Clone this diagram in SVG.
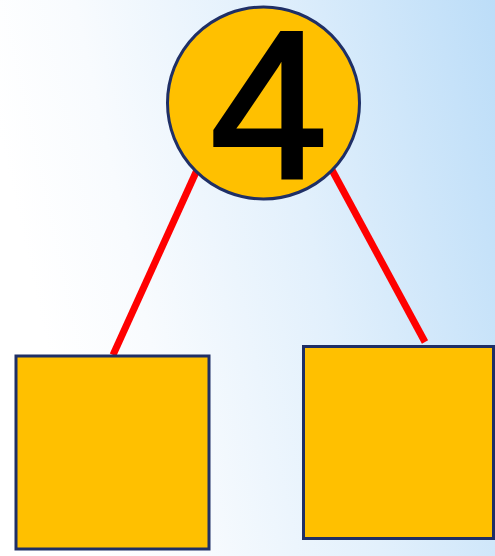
<svg xmlns="http://www.w3.org/2000/svg" width="495" height="556" viewBox="0 0 495 556">
<defs>
<linearGradient id="bg" x1="0" y1="0.25" x2="1" y2="0">
<stop offset="0" stop-color="#FFFFFF"/>
<stop offset="0.2" stop-color="#F8FBFE"/>
<stop offset="0.55" stop-color="#E2F0FC"/>
<stop offset="1" stop-color="#BCDDF8"/>
</linearGradient>
<style>
.node{fill:#FFC000;stroke:#1F2F66;stroke-width:3}
.edge{stroke:#FF0000;stroke-width:7;fill:none}
.lbl{font-family:"Liberation Sans",Arial,sans-serif;font-size:210px;fill:#000000;stroke:#000000;stroke-width:4;stroke-linejoin:miter}
</style>
</defs>
<rect x="0" y="0" width="495" height="556" fill="url(#bg)"/>
<g id="connectors">
<line class="edge" x1="197" y1="170" x2="113" y2="355"/>
<line class="edge" x1="332" y1="170" x2="425" y2="342"/>
</g>
<g id="root">
<circle class="node" cx="263.5" cy="103" r="96"/>
<text class="lbl" x="269" y="178" text-anchor="middle">4</text>
</g>
<g id="left">
<rect class="node" x="16" y="356" width="193" height="193"/>
</g>
<g id="right">
<rect class="node" x="303.5" y="346.5" width="190" height="192"/>
</g>
</svg>
